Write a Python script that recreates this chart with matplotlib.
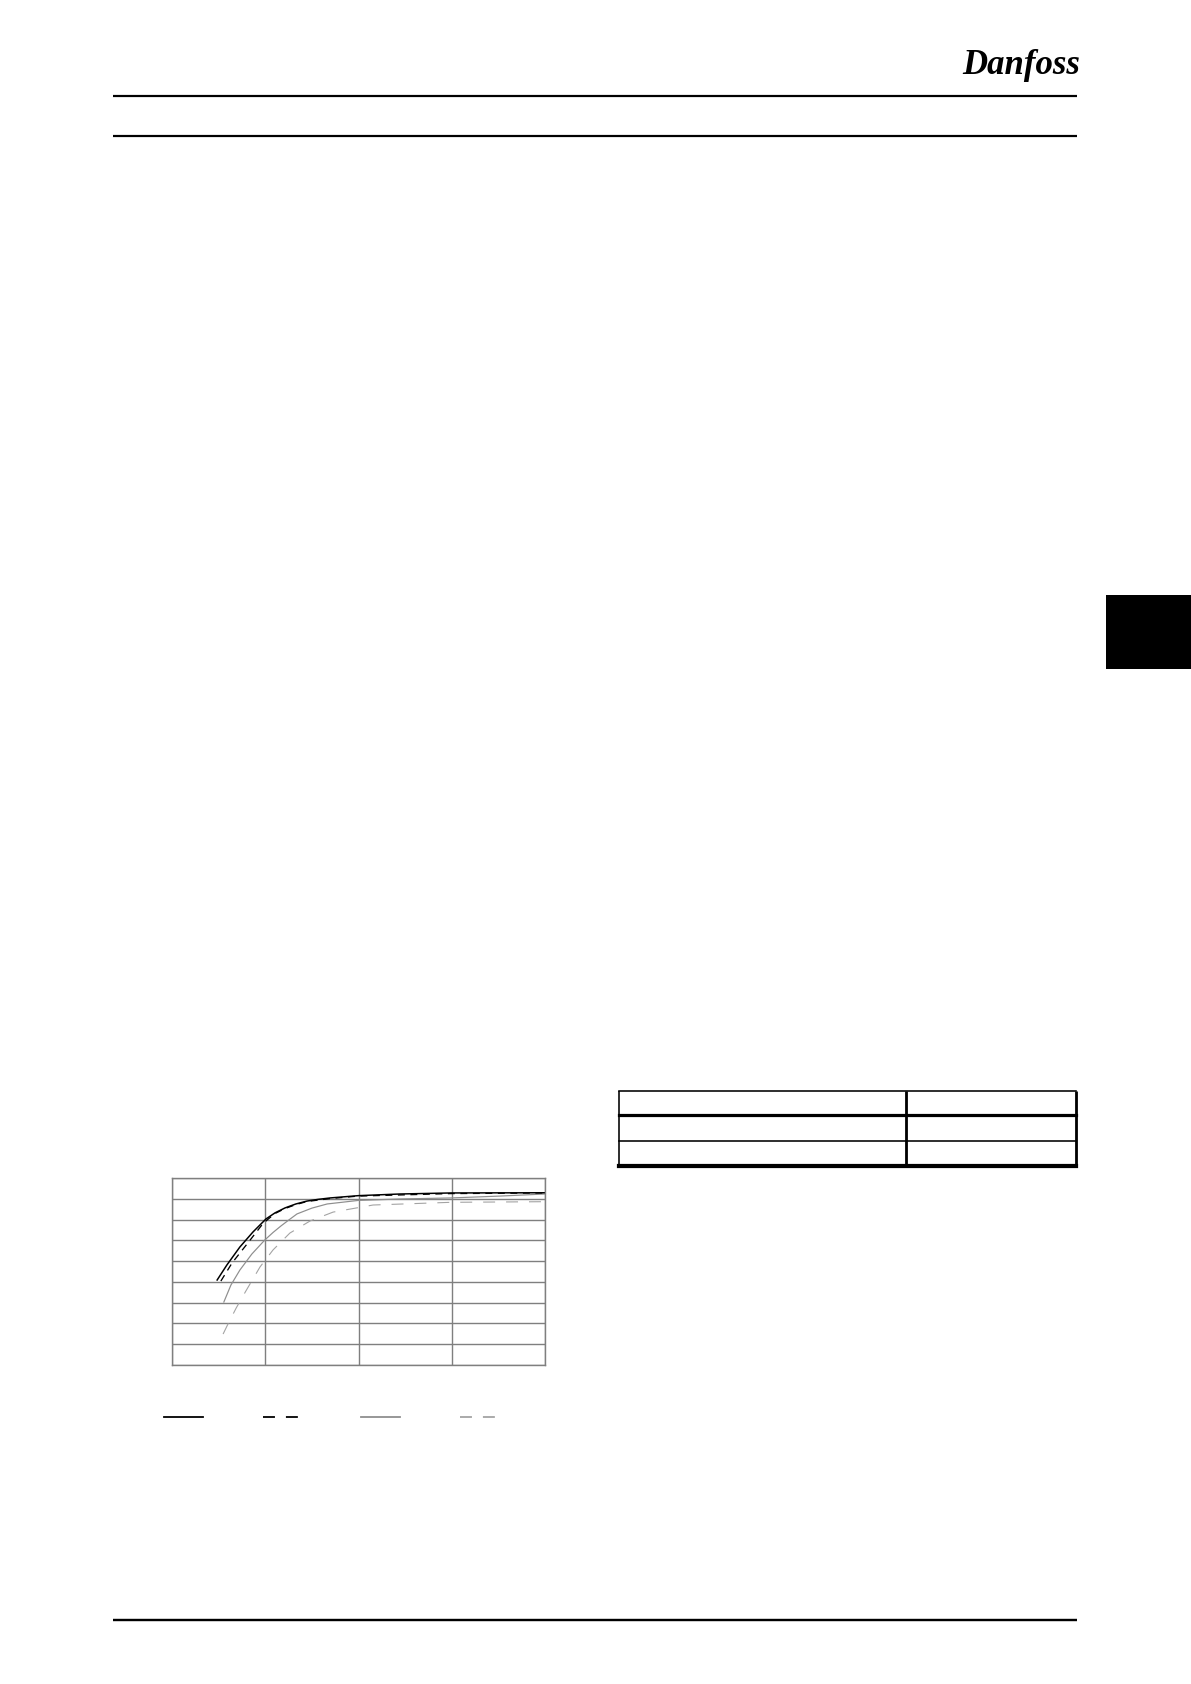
import matplotlib
matplotlib.use('Agg')
import matplotlib.pyplot as plt
from matplotlib.patches import Rectangle
from matplotlib.lines import Line2D

plt.rcParams['lines.scale_dashes'] = False

# load (%) / efficiency (%)
black_solid_x = [12.1, 14.7, 18.2, 21.7, 25.2, 27.6, 30.3, 33.2, 36.2, 39.1, 42.4, 49.9, 61.1, 74.8, 100.0]
black_solid_y = [50.9, 58.1, 66.8, 74.0, 80.3, 83.2, 85.6, 87.5, 88.9, 89.7, 90.4, 91.5, 92.3, 92.8, 92.9]

black_dash_x = [13.1, 16.1, 20.1, 24.1, 25.5, 27.6, 30.3, 33.2, 36.2, 42.4, 49.9, 74.8, 100.0]
black_dash_y = [50.4, 59.1, 68.2, 77.4, 79.8, 82.9, 85.3, 87.2, 88.7, 90.1, 91.3, 92.5, 92.8]

gray_solid_x = [13.9, 15.8, 18.2, 21.4, 24.9, 27.1, 29.2, 31.4, 33.5, 37.5, 41.6, 49.9, 61.1, 74.8, 87.9, 100.0]
gray_solid_y = [40.3, 48.5, 55.7, 63.4, 70.2, 73.8, 76.9, 79.9, 82.7, 85.5, 87.5, 89.2, 89.9, 90.4, 91.3, 92.3]

gray_dash_x = [13.7, 15.0, 17.2, 19.8, 23.6, 27.1, 31.6, 37.0, 43.2, 53.9, 74.8, 100.0]
gray_dash_y = [24.9, 29.7, 37.4, 45.6, 57.2, 65.4, 73.5, 79.3, 83.6, 87.0, 88.3, 88.6]

x_ticks = [0, 25, 50, 75, 100]
y_ticks = [10, 20, 30, 40, 50, 60, 70, 80, 90, 100]

W, H = 1191, 1684
fig = plt.figure(figsize=(W / 100, H / 100), dpi=100)

# page furniture in pixel coordinates
page = fig.add_axes([0, 0, 1, 1])
page.set_xlim(0, W)
page.set_ylim(H, 0)
page.axis('off')

px = 0.72  # one pixel in points
for y in (96, 136):
    page.plot([113, 1077], [y, y], color='black', lw=2.2 * px, solid_capstyle='butt')
page.plot([113, 1077], [1620, 1620], color='black', lw=2.4 * px, solid_capstyle='butt')
page.add_patch(Rectangle((1106, 595), W - 1106, 74, color='black', lw=0))
page.text(1021, 65, 'Danfoss', ha='center', va='center', fontsize=25,
          family='Liberation Serif', style='italic', weight='bold')

# empty table, top right
tl, tm, tr = 619, 906, 1076
rows = [(1091, 1.6), (1115, 3.2), (1141, 1.6), (1166, 4.2)]
for y, w in rows:
    page.plot([tl, tr], [y, y], color='black', lw=w * px, solid_capstyle='projecting')
for x, w in ((tl, 1.6), (tm, 2.8), (tr, 2.8)):
    page.plot([x, x], [1091, 1166], color='black', lw=w * px, solid_capstyle='butt')

# the chart
ax = fig.add_axes([172 / W, 1 - 1365 / H, 373 / W, 187 / H])
grid_c = '#7f7f7f'
ax.set_xlim(0, 100)
ax.set_ylim(10, 100)
ax.set_xticks(x_ticks)
ax.set_yticks(y_ticks)
ax.tick_params(length=0, labelbottom=False, labelleft=False)
ax.grid(True, color=grid_c, lw=1.4 * px)
for s in ax.spines.values():
    s.set_color(grid_c)
    s.set_linewidth(1.4 * px)

dash = (0, (8.6, 7.9))
ax.plot(gray_dash_x, gray_dash_y, color='#a3a3a3', lw=1.1 * px, ls=dash)
ax.plot(gray_solid_x, gray_solid_y, color='#8e8e8e', lw=1.2 * px)
ax.plot(black_dash_x, black_dash_y, color='black', lw=1.3 * px, ls=(0, (5, 4)))
ax.plot(black_solid_x, black_solid_y, color='black', lw=1.5 * px)

handles = [
    Line2D([], [], color='black', lw=1.8 * px),
    Line2D([], [], color='black', lw=1.8 * px, ls=dash),
    Line2D([], [], color='#8e8e8e', lw=1.8 * px),
    Line2D([], [], color='#a3a3a3', lw=1.8 * px, ls=dash),
]
fig.legend(handles, ['', '', '', ''], ncol=4, loc='center left',
           bbox_to_anchor=(164 / W, 1 - 1418 / H), frameon=False,
           borderpad=0, borderaxespad=0, handlelength=2.8, handletextpad=0,
           columnspacing=4.3, fontsize=10)

fig.savefig('out.png', dpi=100)
